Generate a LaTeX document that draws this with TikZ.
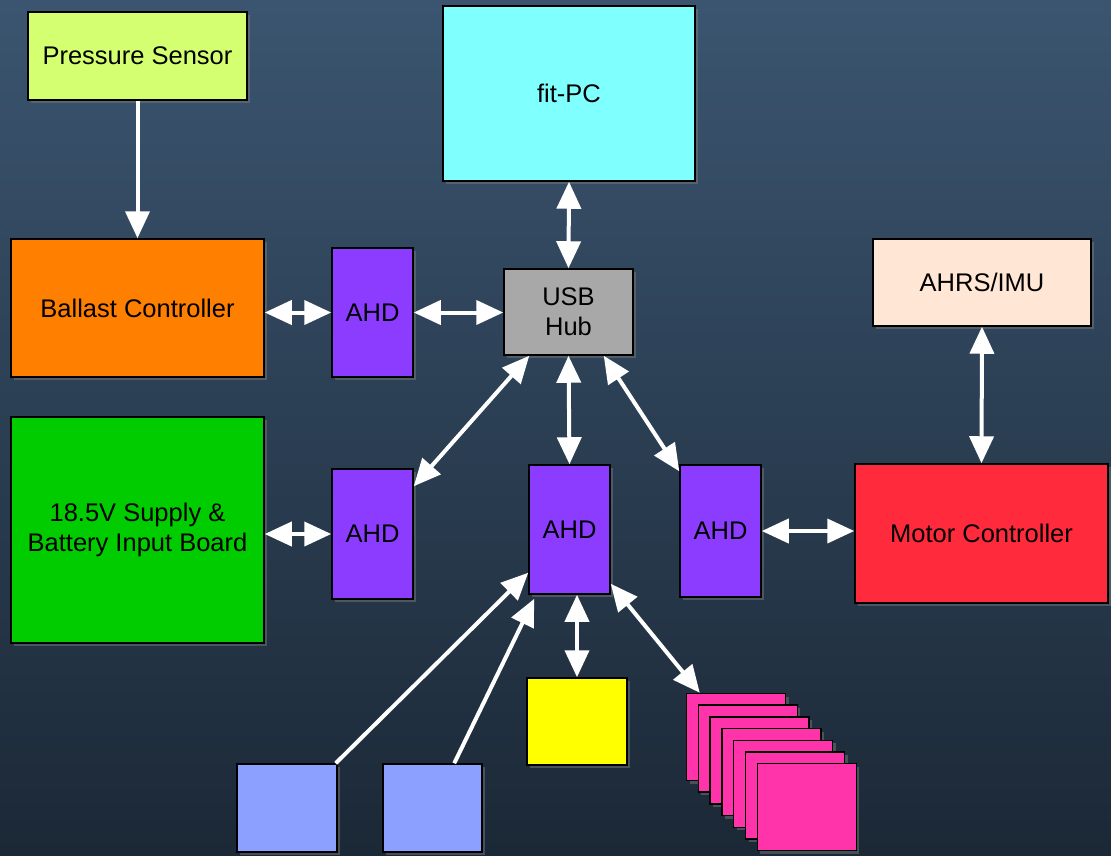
\documentclass[tikz,border=0pt]{standalone}
\usepackage{fontspec}
\setmainfont{Liberation Sans}
\usetikzlibrary{arrows.meta,shadows}

\definecolor{bgtop}{HTML}{3B5570}
\definecolor{bgbot}{HTML}{1B2836}
\definecolor{limefill}{HTML}{D4FF70}
\definecolor{cyanfill}{HTML}{80FFFF}
\definecolor{orangefill}{HTML}{FF7F00}
\definecolor{ahdfill}{HTML}{8B3CFF}
\definecolor{hubfill}{HTML}{A8A8A8}
\definecolor{peachfill}{HTML}{FFE6D5}
\definecolor{greenfill}{HTML}{00CC00}
\definecolor{redfill}{HTML}{FF2A3C}
\definecolor{yellowfill}{HTML}{FFFF00}
\definecolor{bluefill}{HTML}{8CA0FF}
\definecolor{pinkfill}{HTML}{FF33AA}

\tikzset{
  blk/.style={draw=black, line width=1.5pt, inner sep=0pt, align=center,
    font=\fontsize{25.5}{30}\selectfont,
    drop shadow={opacity=0.45, shadow xshift=3pt, shadow yshift=-3pt}},
  link/.style={draw=white, line width=4pt},
  both/.style={link, {Triangle[length=27pt,width=24pt]}-{Triangle[length=27pt,width=24pt]}},
  one/.style={link, -{Triangle[length=27pt,width=24pt]}}
}

\begin{document}
\begin{tikzpicture}[x=1pt, y=-1pt]
  \shade[top color=bgtop, bottom color=bgbot] (0,0) rectangle (1111,855);
  \useasboundingbox (0,0) rectangle (1111,855);

  % top row
  \node[blk, fill=limefill, minimum width=219pt, minimum height=88pt] (press) at (137.5,56) {Pressure Sensor};
  \node[blk, fill=cyanfill, minimum width=252pt, minimum height=175pt] (fitpc) at (569,93.5) {fit-PC};

  % middle row
  \node[blk, fill=orangefill, minimum width=253pt, minimum height=138pt] (ballast) at (137.5,308) {Ballast Controller};
  \node[blk, fill=ahdfill, minimum width=81pt, minimum height=129pt] (ahdA) at (372.5,312.5) {AHD};
  \node[blk, fill=hubfill, minimum width=129pt, minimum height=86pt] (hub) at (568.5,312) {USB\\Hub};
  \node[blk, fill=peachfill, minimum width=218pt, minimum height=87pt] (ahrs) at (982,282.5) {AHRS/IMU};

  % lower row
  \node[blk, fill=greenfill, minimum width=253pt, minimum height=226pt] (supply) at (137.5,530) {18.5V Supply \&\\Battery Input Board};
  \node[blk, fill=ahdfill, minimum width=81pt, minimum height=130pt] (ahdB) at (372.5,534) {AHD};
  \node[blk, fill=ahdfill, minimum width=81pt, minimum height=129pt] (ahdC) at (569.5,529.5) {AHD};
  \node[blk, fill=ahdfill, minimum width=81pt, minimum height=132pt] (ahdD) at (720.5,531) {AHD};
  \node[blk, fill=redfill, minimum width=253pt, minimum height=139pt] (motor) at (981.5,533.5) {Motor Controller};

  % bottom peripherals
  \node[blk, fill=yellowfill, minimum width=100pt, minimum height=87pt] (yellow) at (577,721.5) {};
  \node[blk, fill=bluefill, minimum width=100pt, minimum height=88pt] (blueA) at (287,808) {};
  \node[blk, fill=bluefill, minimum width=99pt, minimum height=88pt] (blueB) at (432.5,808) {};
  \foreach \k in {0,...,6}
    \node[blk, fill=pinkfill, minimum width=99pt, minimum height=87pt] (pink\k) at (736+11.8*\k,737+11.7*\k) {};

  % connectors
  \draw[one] (press.south) -- (ballast.north);
  \draw[both] (ballast.east |- ahdA) -- (ahdA.west);
  \draw[both] (ahdA.east) -- (hub.west |- ahdA);
  \draw[both] (fitpc.south) -- (hub.north);
  \draw[both] ([xshift=26pt]hub.south west) -- ([yshift=-18pt]ahdB.north east);
  \draw[both] (hub.south) -- (ahdC.north);
  \draw[both] ([xshift=-30pt]hub.south east) -- ([yshift=-7pt]ahdD.north west);
  \draw[both] (ahrs.south) -- (motor.north);
  \draw[both] (supply.east |- ahdB) -- (ahdB.west);
  \draw[both] (ahdD.east) -- (motor.west |- ahdD);
  \draw[one] ([xshift=-2pt]blueA.north east) -- ([yshift=22pt]ahdC.south west);
  \draw[one] ([xshift=72pt]blueB.north west) -- ([xshift=6pt,yshift=-4pt]ahdC.south west);
  \draw[both] (ahdC.south -| yellow.north) -- (yellow.north);
  \draw[both] ([yshift=11pt]ahdC.south east) -- ([xshift=14pt]pink0.north west);
\end{tikzpicture}
\end{document}
